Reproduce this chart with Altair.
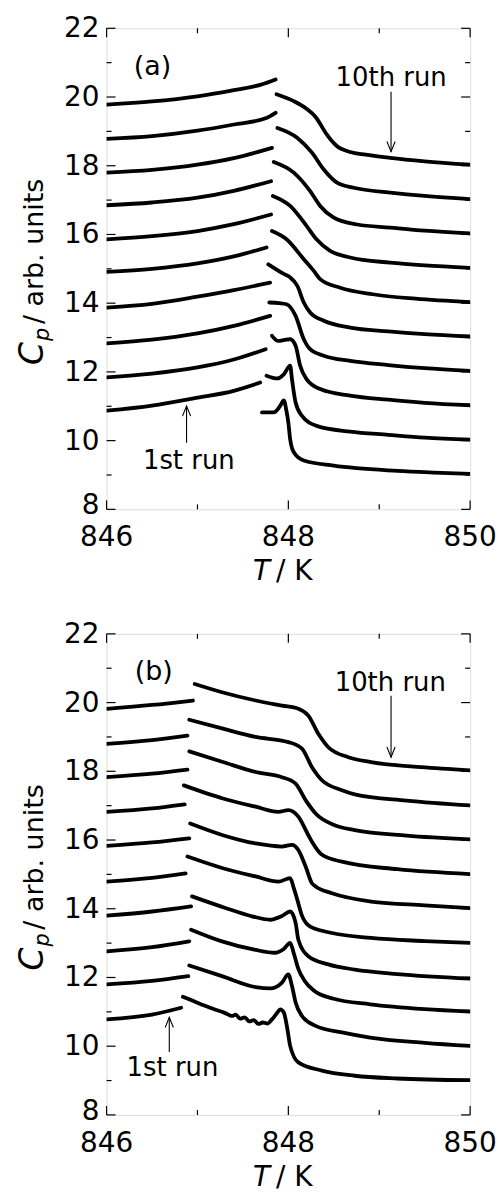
import altair as alt
import pandas as pd

FONT = "DejaVu Sans"

# ---------------- data: panel (a) ----------------
# each run: pre-gap segment, None separator, post-gap segment
a1_T  = [846.0, 846.5, 847.0, 847.4, 847.69, None, 847.71, 847.84, 847.91, 847.95, 847.98, 848.0, 848.02, 848.06, 848.17, 848.5, 849.2, 849.6, 850.0]
a1_Cp = [10.87, 11.02, 11.25, 11.45, 11.69, None, 10.82, 10.82, 11.01, 11.17, 10.85, 10.53, 10.04, 9.66, 9.42, 9.27, 9.12, 9.07, 9.03]
a2_T  = [846.0, 846.5, 847.0, 847.4, 847.75, None, 847.76, 847.88, 847.95, 848.02, 848.04, 848.08, 848.15, 848.31, 848.68, 849.1, 849.5, 850.0]
a2_Cp = [11.84, 11.95, 12.13, 12.36, 12.66, None, 11.89, 11.81, 11.93, 12.18, 11.79, 11.11, 10.72, 10.43, 10.26, 10.17, 10.09, 10.03]
a3_T  = [846.0, 846.5, 847.0, 847.4, 847.80, None, 847.82, 847.89, 847.96, 848.02, 848.08, 848.13, 848.20, 848.35, 848.68, 849.1, 849.5, 850.0]
a3_Cp = [12.83, 12.94, 13.12, 13.34, 13.63, None, 13.05, 12.90, 12.93, 12.95, 12.76, 12.18, 11.79, 11.50, 11.31, 11.19, 11.10, 11.03]
a4_T  = [846.0, 846.5, 847.0, 847.4, 847.80, None, 847.79, 847.90, 847.98, 848.08, 848.17, 848.24, 848.39, 848.68, 849.1, 849.5, 850.0]
a4_Cp = [13.87, 13.98, 14.19, 14.38, 14.60, None, 14.02, 14.00, 13.97, 13.63, 12.95, 12.66, 12.47, 12.32, 12.20, 12.11, 12.03]
a5_T  = [846.0, 846.5, 847.0, 847.4, 847.76, None, 847.78, 847.95, 848.02, 848.10, 848.17, 848.24, 848.39, 848.68, 849.1, 849.5, 850.0]
a5_Cp = [14.91, 15.00, 15.16, 15.36, 15.62, None, 15.13, 14.85, 14.75, 14.50, 14.02, 13.73, 13.49, 13.29, 13.18, 13.10, 13.03]
a6_T  = [846.0, 846.5, 847.0, 847.4, 847.81, None, 847.82, 847.98, 848.17, 848.28, 848.35, 848.57, 848.93, 849.4, 850.0]
a6_Cp = [15.86, 15.95, 16.10, 16.30, 16.58, None, 16.10, 15.86, 15.28, 14.94, 14.70, 14.45, 14.26, 14.13, 14.03]
a7_T  = [846.0, 846.5, 847.0, 847.4, 847.81, None, 847.83, 848.02, 848.20, 848.31, 848.46, 848.68, 849.12, 849.5, 850.0]
a7_Cp = [16.85, 16.93, 17.07, 17.27, 17.55, None, 17.12, 16.83, 16.25, 15.86, 15.52, 15.33, 15.18, 15.10, 15.03]
a8_T  = [846.0, 846.5, 847.0, 847.4, 847.82, None, 847.84, 848.06, 848.24, 848.35, 848.50, 848.76, 849.12, 849.5, 850.0]
a8_Cp = [17.80, 17.88, 18.03, 18.22, 18.52, None, 18.11, 17.80, 17.26, 16.83, 16.49, 16.29, 16.20, 16.11, 16.03]
a9_T  = [846.0, 846.5, 847.0, 847.4, 847.75, 847.86, None, 847.88, 848.10, 848.26, 848.39, 848.54, 848.72, 849.12, 849.5, 850.0]
a9_Cp = [18.78, 18.86, 19.02, 19.20, 19.38, 19.54, None, 19.10, 18.81, 18.38, 17.89, 17.50, 17.36, 17.22, 17.12, 17.03]
a10_T  = [846.0, 846.5, 847.0, 847.4, 847.70, 847.86, None, 847.87, 848.06, 848.20, 848.30, 848.42, 848.53, 848.68, 848.85, 849.12, 849.5, 850.0]
a10_Cp = [19.78, 19.87, 20.02, 20.20, 20.36, 20.51, None, 20.08, 19.88, 19.66, 19.42, 18.92, 18.58, 18.40, 18.32, 18.23, 18.13, 18.03]

# ---------------- data: panel (b) ----------------
b1_T  = [846.0, 846.5, 846.82, None, 846.84, 846.95, 847.09, 847.2, 847.3, 847.38, 847.42, 847.47, 847.52, 847.57, 847.62, 847.67, 847.72, 847.77, 847.82, 847.88, 847.91, 847.95, 847.99, 848.02, 848.11, 848.37, 848.73, 849.2, 850.0]
b1_Cp = [10.78, 10.92, 11.12, None, 11.44, 11.32, 11.17, 11.06, 10.97, 10.88, 10.92, 10.80, 10.84, 10.72, 10.76, 10.65, 10.69, 10.66, 10.78, 10.98, 11.07, 10.98, 10.49, 10.01, 9.53, 9.29, 9.14, 9.06, 9.01]
b2_T  = [846.0, 846.5, 846.90, None, 846.91, 847.27, 847.64, 847.80, 847.93, 848.00, 848.04, 848.08, 848.15, 848.30, 848.59, 848.9, 849.5, 850.0]
b2_Cp = [11.80, 11.90, 12.04, None, 12.35, 12.04, 11.72, 11.68, 11.85, 12.09, 11.75, 11.27, 10.88, 10.59, 10.40, 10.25, 10.10, 10.01]
b3_T  = [846.0, 846.5, 846.91, None, 846.93, 847.27, 847.64, 847.85, 847.95, 848.02, 848.06, 848.11, 848.18, 848.28, 848.5, 848.9, 849.5, 850.0]
b3_Cp = [12.76, 12.88, 13.05, None, 13.39, 13.05, 12.80, 12.72, 12.83, 13.01, 12.70, 12.25, 11.90, 11.62, 11.38, 11.22, 11.08, 11.01]
b4_T  = [846.0, 846.5, 846.93, None, 846.94, 847.3, 847.6, 847.8, 847.93, 848.02, 848.08, 848.11, 848.22, 848.44, 848.73, 849.2, 850.0]
b4_Cp = [13.80, 13.92, 14.07, None, 14.36, 14.03, 13.78, 13.68, 13.79, 13.92, 13.59, 13.10, 12.62, 12.38, 12.23, 12.10, 11.97]
b5_T  = [846.0, 846.5, 846.87, None, 846.89, 847.28, 847.64, 847.89, 848.02, 848.06, 848.10, 848.15, 848.22, 848.37, 848.91, 849.5, 850.0]
b5_Cp = [14.79, 14.90, 15.03, None, 15.52, 15.18, 14.94, 14.79, 14.89, 14.60, 14.25, 13.80, 13.52, 13.36, 13.15, 13.06, 13.01]
b6_T  = [846.0, 846.5, 846.91, None, 846.92, 847.28, 847.64, 847.93, 848.04, 848.11, 848.19, 848.26, 848.30, 848.48, 848.91, 849.5, 850.0]
b6_Cp = [15.83, 15.93, 16.05, None, 16.48, 16.14, 15.90, 15.81, 15.86, 15.71, 15.23, 14.74, 14.65, 14.45, 14.21, 14.10, 14.02]
b7_T  = [846.0, 846.5, 846.86, None, 846.85, 847.28, 847.64, 847.89, 848.00, 848.11, 848.22, 848.26, 848.37, 848.59, 849.2, 850.0]
b7_Cp = [16.82, 16.92, 17.04, None, 17.59, 17.21, 16.97, 16.82, 16.87, 16.68, 16.14, 15.95, 15.57, 15.37, 15.15, 15.01]
b8_T  = [846.0, 846.5, 846.89, None, 846.91, 847.28, 847.64, 847.93, 848.08, 848.19, 848.30, 848.51, 848.73, 849.3, 850.0]
b8_Cp = [17.83, 17.93, 18.05, None, 18.58, 18.27, 17.98, 17.83, 17.64, 17.16, 16.77, 16.43, 16.29, 16.13, 16.02]
b9_T  = [846.0, 846.5, 846.89, None, 846.91, 847.28, 847.64, 848.00, 848.15, 848.26, 848.37, 848.59, 848.73, 849.3, 850.0]
b9_Cp = [18.80, 18.91, 19.04, None, 19.50, 19.24, 19.00, 18.85, 18.66, 18.12, 17.74, 17.45, 17.33, 17.15, 17.01]
b10_T  = [846.0, 846.5, 846.95, None, 846.97, 847.27, 847.64, 847.93, 848.11, 848.22, 848.33, 848.44, 848.66, 848.91, 849.46, 850.0]
b10_Cp = [19.82, 19.93, 20.06, None, 20.54, 20.30, 20.06, 19.91, 19.82, 19.62, 19.09, 18.70, 18.41, 18.27, 18.12, 18.03]

# ---------------- axes ----------------
x_domain = [846, 850]
y_domain = [8, 22]
x_labels = [846, 848, 850]
x_minor = [847, 849]
y_labels = [10, 12, 14, 16, 18, 20, 22]
y_bottom_label = [8]
y_major = [8, 10, 12, 14, 16, 18, 20, 22]
y_minor = [9, 11, 13, 15, 17, 19, 21]

# ---------------- annotations ----------------
a_tag = ["(a)", 846.30, 20.65]
b_tag = ["(b)", 846.31, 20.65]
a_last = ["10th run", 848.52, 20.33, 849.13, 20.15, 18.41]
b_last = ["10th run", 848.51, 20.35, 849.13, 20.20, 18.41]
a_first = ["1st run", 846.40, 9.16, 846.88, 9.94, 11.01]
b_first = ["1st run", 846.22, 9.13, 846.69, 9.83, 10.84]

W, H = 365, 483


def make_df(runs, panel):
    rows = []
    for i, (Ts, Cs) in enumerate(runs, start=1):
        seg = 0
        for t, c in zip(Ts, Cs):
            if t is None:
                seg += 1
                continue
            rows.append({"T": t, "Cp": c, "seg": f"{panel}{i}_{seg}"})
    return pd.DataFrame(rows)


def panel(runs, tag, last, first, name, extra_left=None):
    xs = alt.Scale(domain=x_domain, nice=False, zero=False)
    ys = alt.Scale(domain=y_domain, nice=False, zero=False)
    X = alt.X("T:Q", scale=xs, axis=None)
    Y = alt.Y("Cp:Q", scale=ys, axis=None)
    df = make_df(runs, name)

    lines = alt.Chart(df).mark_line(
        color="black", strokeWidth=3.8, interpolate="monotone",
        strokeCap="round", strokeJoin="round", clip=True
    ).encode(x=X, y=Y, detail="seg:N")

    xmaj = pd.DataFrame({"T": x_labels})
    xmin = pd.DataFrame({"T": x_minor})
    ymaj = pd.DataFrame({"Cp": y_major})
    ymin = pd.DataFrame({"Cp": y_minor})

    def xt(d, y0, y1):
        return alt.Chart(d).mark_rule(color="black", strokeWidth=1.2).encode(
            x=X, y=alt.value(y0), y2=alt.value(y1))

    def yt(d, x0, x1):
        return alt.Chart(d).mark_rule(color="black", strokeWidth=1.2).encode(
            y=Y, x=alt.value(x0), x2=alt.value(x1))

    ticks = [
        xt(xmaj, H, H - 9), xt(xmaj, 0, 9), xt(xmin, H, H - 5), xt(xmin, 0, 5),
        yt(ymaj, 0, 9), yt(ymaj, W, W - 9), yt(ymin, 0, 5), yt(ymin, W, W - 5),
    ]

    xlab = alt.Chart(xmaj).mark_text(font=FONT, fontSize=28, align="center", baseline="top",
                                     color="black").encode(
        x=X, y=alt.value(H + 15), text=alt.Text("T:Q", format="d"))
    ylab = alt.Chart(pd.DataFrame({"Cp": y_labels})).mark_text(
        font=FONT, fontSize=28, align="right", baseline="middle", color="black", dy=1).encode(
        y=Y, x=alt.value(-7), text=alt.Text("Cp:Q", format="d"))
    ylab8 = alt.Chart(pd.DataFrame({"Cp": y_bottom_label})).mark_text(
        font=FONT, fontSize=28, align="right", baseline="middle", color="black", dy=-3).encode(
        y=Y, x=alt.value(-7), text=alt.Text("Cp:Q", format="d"))

    one = pd.DataFrame({"k": [0]})

    tag_df = pd.DataFrame({"label": [tag[0]], "T": [tag[1]], "Cp": [tag[2]]})
    tag_t = alt.Chart(tag_df).mark_text(
        font=FONT, fontSize=27, align="left", baseline="alphabetic", color="black"
    ).encode(x=X, y=Y, text="label:N")

    ann_df = pd.DataFrame({
        "label": [last[0], first[0]], "T": [last[1], first[1]], "Cp": [last[2], first[2]]})
    ann_t = alt.Chart(ann_df).mark_text(
        font=FONT, fontSize=26, align="left", baseline="alphabetic", color="black"
    ).encode(x=X, y=Y, text="label:N")

    arr_df = pd.DataFrame({
        "T": [last[3], first[3]], "Cp": [last[4], first[4]], "Cp2": [last[5], first[5]]})
    shafts = alt.Chart(arr_df).mark_rule(color="black", strokeWidth=1.1).encode(
        x=X, y=Y, y2="Cp2:Q")
    head_dn = alt.Chart(pd.DataFrame({"T": [last[3]], "Cp": [last[5]]})).mark_point(
        shape="M-0.4,-1L0,0L0.4,-1", size=420, filled=False, color="black", strokeWidth=1.1, opacity=1
    ).encode(x=X, y=Y)
    head_up = alt.Chart(pd.DataFrame({"T": [first[3]], "Cp": [first[5]]})).mark_point(
        shape="M-0.4,1L0,0L0.4,1", size=420, filled=False, color="black", strokeWidth=1.1, opacity=1
    ).encode(x=X, y=Y)

    # axis titles with italic symbols and subscript
    yC = alt.Chart(one).mark_text(text="C", font=FONT, fontStyle="italic", fontSize=33, angle=270,
                                  align="left", baseline="alphabetic", color="black").encode(
        x=alt.value(-64), y=alt.value(338))
    yp = alt.Chart(one).mark_text(text="p", font=FONT, fontStyle="italic", fontSize=21, angle=270,
                                  align="left", baseline="alphabetic", color="black").encode(
        x=alt.value(-58), y=alt.value(314))
    yrest = alt.Chart(one).mark_text(text="/ arb. units", font=FONT, fontSize=27, angle=270,
                                     align="left", baseline="alphabetic", color="black").encode(
        x=alt.value(-64), y=alt.value(297))
    xT = alt.Chart(one).mark_text(text="T", font=FONT, fontStyle="italic", fontSize=28,
                                  align="left", baseline="alphabetic", color="black").encode(
        x=alt.value(147), y=alt.value(H + 71))
    xK = alt.Chart(one).mark_text(text="/ K", font=FONT, fontSize=28,
                                  align="left", baseline="alphabetic", color="black").encode(
        x=alt.value(170), y=alt.value(H + 71))

    layers = [lines, *ticks, xlab, ylab, ylab8, tag_t, ann_t, shafts, head_dn, head_up,
              yC, yp, yrest, xT, xK]
    if extra_left is not None:
        # invisible spacer that widens the panel's left extent
        layers.append(alt.Chart(one).mark_rule(strokeOpacity=0, opacity=0).encode(
            x=alt.value(extra_left), x2=alt.value(extra_left + 1), y=alt.value(0)))

    return alt.layer(*layers).properties(width=W, height=H)


runs_a = [(a1_T, a1_Cp), (a2_T, a2_Cp), (a3_T, a3_Cp), (a4_T, a4_Cp), (a5_T, a5_Cp),
          (a6_T, a6_Cp), (a7_T, a7_Cp), (a8_T, a8_Cp), (a9_T, a9_Cp), (a10_T, a10_Cp)]
runs_b = [(b1_T, b1_Cp), (b2_T, b2_Cp), (b3_T, b3_Cp), (b4_T, b4_Cp), (b5_T, b5_Cp),
          (b6_T, b6_Cp), (b7_T, b7_Cp), (b8_T, b8_Cp), (b9_T, b9_Cp), (b10_T, b10_Cp)]

pa = panel(runs_a, a_tag, a_last, a_first, "a", extra_left=-96)
pb = panel(runs_b, b_tag, b_last, b_first, "b")

chart = alt.concat(pa, pb, columns=1, spacing=33, align="none").properties(
    padding={"left": 10, "top": 12, "right": 0, "bottom": 0}
).configure_view(stroke="black", strokeWidth=1.5).configure(background="white")

chart.save("out.html", embed_options={"renderer": "svg", "actions": False})
